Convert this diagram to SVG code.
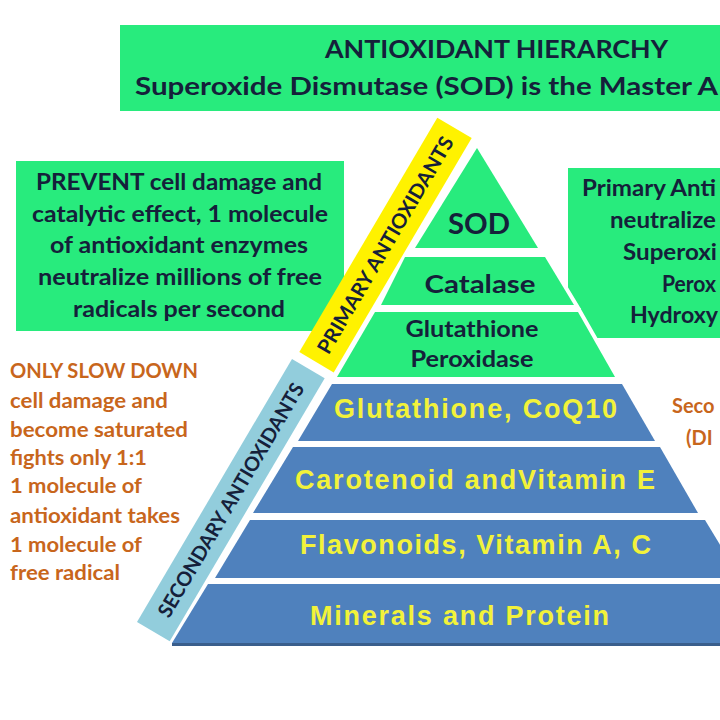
<svg xmlns="http://www.w3.org/2000/svg" width="720" height="720" viewBox="0 0 720 720">
<style>
.g{fill:#28EB7D}
.gb{fill:#28EB7D;stroke:#fff;stroke-width:8;paint-order:stroke;stroke-linejoin:miter}
.b{fill:#4F81BD}
.dk{font-family:Lato,"Open Sans","Liberation Sans",sans-serif;font-weight:bold;fill:#15203A}
.or{font-family:Lato,"Open Sans","Liberation Sans",sans-serif;font-weight:bold;fill:#C8661C;font-size:20px}
.yt{font-family:"Liberation Sans",Arial,sans-serif;font-weight:bold;fill:#F2F23A;font-size:27px;text-anchor:middle}
</style>
<rect width="720" height="720" fill="#fff"/>
<g id="title">
<rect class="g" x="120" y="25" width="610" height="86"/>
<text class="dk" x="325" y="58" font-size="25" textLength="343" lengthAdjust="spacingAndGlyphs">ANTIOXIDANT HIERARCHY</text>
<text class="dk" x="135" y="95" font-size="25" textLength="583" lengthAdjust="spacingAndGlyphs">Superoxide Dismutase (SOD) is the Master A</text>
</g>
<g id="left-box">
<rect class="g" x="16" y="161" width="328" height="170"/>
<g class="dk" font-size="23" text-anchor="middle">
<text x="179" y="190" textLength="286" lengthAdjust="spacingAndGlyphs">PREVENT cell damage and</text>
<text x="180" y="222" textLength="296" lengthAdjust="spacingAndGlyphs">catalytic effect, 1 molecule</text>
<text x="179" y="253" textLength="258" lengthAdjust="spacingAndGlyphs">of antioxidant enzymes</text>
<text x="180" y="285" textLength="284" lengthAdjust="spacingAndGlyphs">neutralize millions of free</text>
<text x="179" y="317" textLength="212" lengthAdjust="spacingAndGlyphs">radicals per second</text>
</g>
</g>
<g id="right-box">
<rect class="g" x="568" y="168" width="160" height="170"/>
<g class="dk" font-size="23">
<text x="582" y="196" textLength="134" lengthAdjust="spacingAndGlyphs">Primary Anti</text>
<text x="610" y="228" textLength="106" lengthAdjust="spacingAndGlyphs">neutralize</text>
<text x="623" y="260" textLength="94" lengthAdjust="spacingAndGlyphs">Superoxi</text>
<text x="662" y="292" textLength="54" lengthAdjust="spacingAndGlyphs">Perox</text>
<text x="630" y="323" textLength="88" lengthAdjust="spacingAndGlyphs">Hydroxy</text>
</g>
</g>
<g id="left-notes" class="or">
<text x="10" y="378" textLength="188" lengthAdjust="spacingAndGlyphs">ONLY SLOW DOWN</text>
<text x="10" y="408" textLength="158" lengthAdjust="spacingAndGlyphs">cell damage and</text>
<text x="10" y="437" textLength="178" lengthAdjust="spacingAndGlyphs">become saturated</text>
<text x="10" y="465" textLength="137" lengthAdjust="spacingAndGlyphs">fights only 1:1</text>
<text x="10" y="493" textLength="132" lengthAdjust="spacingAndGlyphs">1 molecule of</text>
<text x="10" y="523" textLength="170" lengthAdjust="spacingAndGlyphs">antioxidant takes</text>
<text x="10" y="552" textLength="132" lengthAdjust="spacingAndGlyphs">1 molecule of</text>
<text x="10" y="580" textLength="110" lengthAdjust="spacingAndGlyphs">free radical</text>
</g>
<g id="right-notes" class="or" font-size="21">
<text x="672" y="413">Seco</text>
<text x="686" y="445">(DI</text>
</g>
<g id="sod">
<polygon class="gb" points="477,148 538,248 415,248"/>
<text class="dk" x="479" y="234" font-size="29" text-anchor="middle" textLength="62" lengthAdjust="spacingAndGlyphs">SOD</text>
</g>
<g id="catalase">
<polygon class="gb" points="405,257 545,257 574,305 381,305"/>
<text class="dk" x="480" y="293" font-size="25" text-anchor="middle" textLength="111" lengthAdjust="spacingAndGlyphs">Catalase</text>
</g>
<g id="glutathione-peroxidase">
<polygon class="gb" points="375,312 578,312 615,377 337,377"/>
<text class="dk" x="472" y="337" font-size="22" text-anchor="middle" textLength="133" lengthAdjust="spacingAndGlyphs">Glutathione</text>
<text class="dk" x="472" y="367" font-size="22" text-anchor="middle" textLength="123" lengthAdjust="spacingAndGlyphs">Peroxidase</text>
</g>
<g id="glutathione-coq10">
<polygon class="b" points="332,384 622,384 655,441 298,441"/>
<text class="yt" x="475.5" y="418" textLength="283" lengthAdjust="spacing">Glutathione, CoQ10</text>
</g>
<g id="carotenoid">
<polygon class="b" points="293,447 660,447 698,513 253,513"/>
<text class="yt" x="475" y="489" textLength="360" lengthAdjust="spacing">Carotenoid andVitamin E</text>
</g>
<g id="flavonoids">
<polygon class="b" points="250,520 705,520 740,578 215,578"/>
<text class="yt" x="475.5" y="554" textLength="351" lengthAdjust="spacing">Flavonoids, Vitamin A, C</text>
</g>
<g id="minerals">
<polygon class="b" points="208,584 744,584 780,643 172,643"/>
<rect x="172" y="643" width="560" height="3" fill="#3A5E8C"/>
<text class="yt" x="459.5" y="625" textLength="299" lengthAdjust="spacing">Minerals and Protein</text>
</g>
<g id="primary-label">
<polygon points="437.3,117.7 471.7,138 333.7,372.4 299.3,352.1" fill="#FFF200"/>
<text class="dk" transform="translate(385.5,245) rotate(-59.5)" x="0" y="7" font-size="20" text-anchor="middle" textLength="248" lengthAdjust="spacingAndGlyphs">PRIMARY ANTIOXIDANTS</text>
</g>
<g id="secondary-label">
<polygon points="292,359 324.7,378.3 169.7,641.3 137,622" fill="#92CDDC"/>
<text class="dk" transform="translate(231,500) rotate(-59.5)" x="0" y="7" font-size="20" text-anchor="middle" textLength="268" lengthAdjust="spacingAndGlyphs">SECONDARY ANTIOXIDANTS</text>
</g>
</svg>
